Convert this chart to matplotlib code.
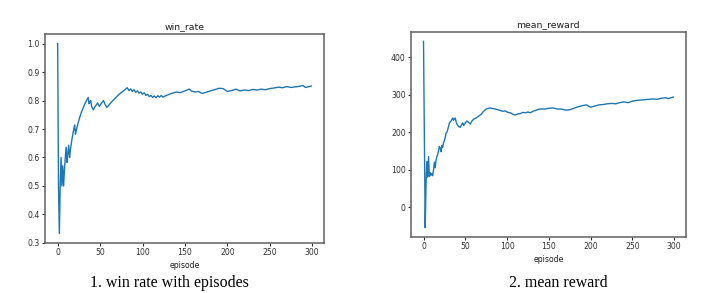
import matplotlib
matplotlib.use("Agg")
import matplotlib.pyplot as plt

# ---- data ----
win_ep = [0, 1, 2, 3, 4, 5, 6, 7, 8, 9, 10, 11, 12, 13, 14, 15, 16, 17, 18, 19, 20, 21, 22,
          24, 26, 28, 30, 32, 34, 36, 37, 38, 39, 40, 42, 44, 46, 47, 49, 51, 53, 54, 56, 58,
          62, 66, 70, 74, 78, 82, 84, 86, 88, 90, 92, 94, 96, 98, 100, 102, 104, 106, 108,
          110, 112, 114, 116, 118, 120, 122, 124, 126, 130, 135, 140, 145, 150, 155, 158,
          162, 166, 170, 175, 180, 185, 190, 195, 200, 205, 210, 215, 220, 225, 230, 235,
          240, 245, 250, 255, 260, 265, 270, 275, 280, 285, 289, 292, 295, 299]
win_rate = [1.0, 0.5, 0.333, 0.5, 0.6, 0.5, 0.571, 0.5, 0.556, 0.6, 0.636, 0.583, 0.615,
            0.643, 0.6, 0.625, 0.647, 0.667, 0.684, 0.7, 0.714, 0.682, 0.696,
            0.72, 0.741, 0.759, 0.774, 0.788, 0.8, 0.811, 0.789, 0.795, 0.8, 0.78, 0.767,
            0.778, 0.787, 0.792, 0.78, 0.788, 0.796, 0.8, 0.786, 0.776,
            0.79, 0.803, 0.815, 0.826, 0.835, 0.845, 0.835, 0.841, 0.832, 0.838, 0.829,
            0.834, 0.826, 0.83, 0.822, 0.827, 0.818, 0.822, 0.814,
            0.818, 0.811, 0.816, 0.81, 0.817, 0.812, 0.818, 0.812, 0.815, 0.82, 0.826,
            0.83, 0.828, 0.834, 0.84, 0.833,
            0.83, 0.832, 0.825, 0.829, 0.834, 0.838, 0.843, 0.842, 0.832, 0.835, 0.84,
            0.834, 0.837, 0.835, 0.839, 0.837,
            0.84, 0.838, 0.842, 0.844, 0.847, 0.845, 0.849, 0.846, 0.848, 0.85, 0.853,
            0.846, 0.848, 0.851]

rew_ep = [0, 1, 2, 3, 4, 5, 6, 7, 8, 9, 10, 11, 12, 13, 14, 15, 16, 17, 18, 19, 20, 21, 22,
          23, 24, 26, 27, 28, 30, 31, 33, 35, 36, 37, 38, 39, 40, 42, 44, 46, 47, 48, 50, 52,
          54, 56, 58, 60, 63, 66, 69, 72, 75, 78, 80, 83, 86, 89, 92, 95, 98, 101, 104, 107,
          110, 113, 116, 119, 122, 125, 128, 131, 134, 137, 140, 145, 150, 155, 160, 165,
          170, 175, 180, 185, 190, 195, 200, 205, 210, 215, 220, 225, 230, 235, 240, 245,
          250, 255, 260, 265, 270, 275, 280, 285, 290, 293, 296, 299]
mean_reward = [443, 194, -55, 60, 122, 80, 135, 82, 92, 85, 90, 84, 100, 120, 105, 125, 135,
               140, 150, 162, 158, 148, 165,
               160, 172, 185, 198, 200, 215, 225, 230, 238, 232, 236, 238, 228, 222, 215,
               213, 222, 225, 218, 225, 230,
               226, 222, 230, 235, 238, 243, 248, 256, 262, 264, 265, 263, 262, 260, 258,
               256, 257, 253, 252, 248,
               246, 249, 250, 253, 252, 254, 252, 256, 258, 261, 262, 262, 264, 265, 262,
               262, 259, 260, 264, 268, 271, 273, 267, 270, 273, 274, 276, 277, 276, 279,
               281, 279, 283, 285, 286, 287, 288, 289, 288, 291, 292, 290, 292, 294]

titles = ["win_rate", "mean_reward"]
xlabel = "episode"
captions = ["1. win rate with episodes", "2. mean reward"]

# ---- style (scaled-down default matplotlib look) ----
s = 0.56
plt.rcParams.update({
    "font.size": 10 * s,
    "axes.titlesize": 12 * s,
    "axes.labelsize": 10 * s,
    "xtick.labelsize": 10 * s,
    "ytick.labelsize": 10 * s,
    "xtick.major.size": 3.5 * s,
    "ytick.major.size": 3.5 * s,
    "xtick.major.pad": 3.5 * s,
    "ytick.major.pad": 3.5 * s,
    "axes.titlepad": 6 * s,
    "axes.labelpad": 4 * s,
    "axes.linewidth": 1.1,
    "axes.edgecolor": "#606060",
    "xtick.color": "#333333",
    "ytick.color": "#333333",
    "text.color": "#222222",
    "axes.labelcolor": "#222222",
})

fig = plt.figure(figsize=(7.23, 2.93), dpi=100)
ax1 = fig.add_axes([0.0622, 0.1706, 0.386, 0.713])
ax2 = fig.add_axes([0.5685, 0.191, 0.380, 0.700])

line_kw = dict(color="#1f77b4", linewidth=1.0)
ax1.plot(win_ep, win_rate, **line_kw)
ax2.plot(rew_ep, mean_reward, **line_kw)

for ax, t in zip((ax1, ax2), titles):
    ax.set_title(t)
    ax.set_xlabel(xlabel)
    ax.set_xticks([0, 50, 100, 150, 200, 250, 300])

ax1.set_yticks([0.3, 0.4, 0.5, 0.6, 0.7, 0.8, 0.9, 1.0])
ax2.set_yticks([0, 100, 200, 300, 400])

fig.text(0.235, 0.034, captions[0], ha="center", va="center",
         fontsize=11.5, family=["Liberation Serif", "DejaVu Serif"], color="black")
fig.text(0.772, 0.034, captions[1], ha="center", va="center",
         fontsize=11.5, family=["Liberation Serif", "DejaVu Serif"], color="black")

fig.savefig("out.png", dpi=100)
